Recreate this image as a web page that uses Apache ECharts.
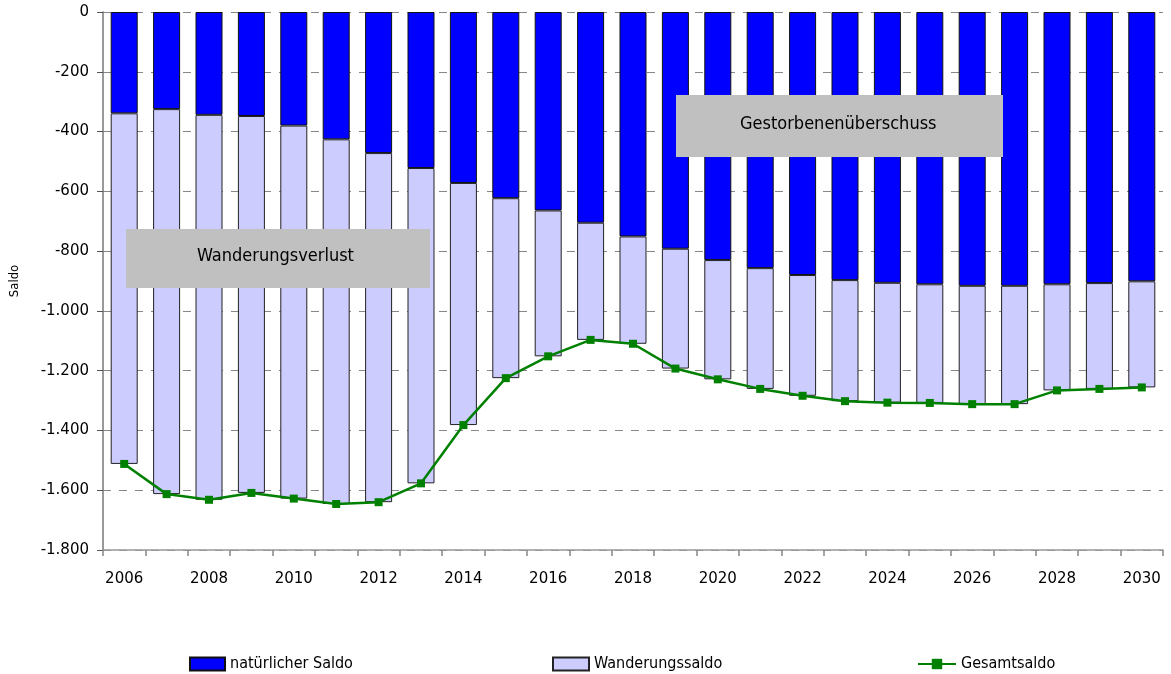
<!DOCTYPE html>
<html>
<head>
<meta charset="utf-8">
<script src="https://cdn.jsdelivr.net/npm/echarts@6/dist/echarts.min.js"></script>
<style>
  html, body { margin: 0; padding: 0; background: #fff; }
  #chart { width: 1171px; height: 674px; }
</style>
</head>
<body>
<div id="chart"></div>
<script>
// data
var years = ['2006', '2007', '2008', '2009', '2010', '2011', '2012', '2013', '2014', '2015',
    '2016', '2017', '2018', '2019', '2020', '2021', '2022', '2023', '2024', '2025',
    '2026', '2027', '2028', '2029', '2030'];
var natuerlich = [-339, -325, -344, -348, -380, -426, -472, -522, -572, -623,
    -664, -705, -751, -792, -830, -857, -880, -897, -906, -911,
    -916, -916, -911, -907, -901];
var wanderung = [-1173, -1288, -1288, -1261, -1248, -1220, -1168, -1055, -810, -602,
    -488, -392, -359, -401, -399, -404, -404, -405, -401, -397,
    -396, -396, -355, -354, -355];
var gesamt = [-1512, -1613, -1632, -1609, -1628, -1646, -1640, -1577, -1382, -1225,
    -1152, -1097, -1110, -1193, -1229, -1261, -1284, -1302, -1307, -1308,
    -1312, -1312, -1266, -1261, -1256];

var labelFont = 'DejaVu Sans';
var textFont = '"DejaVu Sans Condensed", Roboto, sans-serif';

var myChart = echarts.init(document.getElementById('chart'));

var legendText = { fontFamily: textFont, fontSize: 16, color: '#000' };

var option = {
    animation: false,
    grid: { left: 103, right: 8, top: 12, bottom: 124 },
    legend: [
        { data: [{ name: 'natürlicher Saldo', icon: 'rect' }], left: 184, top: 651, itemWidth: 35, itemHeight: 13, itemGap: 4, textStyle: legendText },
        { data: [{ name: 'Wanderungssaldo', icon: 'rect' }], left: 547, top: 651, itemWidth: 36, itemHeight: 13, textStyle: legendText },
        { data: ['Gesamtsaldo'], left: 912, top: 651, itemWidth: 38, itemHeight: 13, textStyle: legendText }
    ],
    xAxis: {
        type: 'category',
        data: years,
        boundaryGap: true,
        axisLine: { onZero: false, lineStyle: { color: '#999', width: 1.5 } },
        axisTick: { show: true, interval: 0, length: 6, lineStyle: { color: '#888', width: 1.5 } },
        axisLabel: { interval: 1, margin: 22, fontFamily: labelFont, fontSize: 15, color: '#000' }
    },
    yAxis: {
        type: 'value',
        min: -1800,
        max: 0,
        interval: 200,
        name: 'Saldo',
        nameLocation: 'middle',
        nameGap: 82,
        nameTextStyle: { fontFamily: textFont, fontSize: 13, color: '#000' },
        axisLine: { show: true, lineStyle: { color: '#777', width: 1.5 } },
        axisTick: { show: true, length: 6, lineStyle: { color: '#555' } },
        axisLabel: {
            margin: 14,
            fontFamily: labelFont,
            fontSize: 15,
            color: '#000',
            formatter: function (v) {
                var s = Math.abs(v).toString().replace(/\B(?=(\d{3})+(?!\d))/g, '.');
                return (v < 0 ? '-' : '') + s;
            }
        },
        splitLine: { lineStyle: { color: '#888', type: [8, 8], width: 1 } }
    },
    graphic: {
        elements: [
            { type: 'rect', z: 100, left: 126, top: 229, shape: { width: 304, height: 59 }, style: { fill: '#c0c0c0' } },
            { type: 'text', z: 101, left: 197, top: 247, style: { text: 'Wanderungsverlust', fontFamily: textFont, fontSize: 18, fill: '#000' } },
            { type: 'rect', z: 100, left: 676, top: 95, shape: { width: 327, height: 62 }, style: { fill: '#c0c0c0' } },
            { type: 'text', z: 101, left: 740, top: 115, style: { text: 'Gestorbenenüberschuss', fontFamily: textFont, fontSize: 18, fill: '#000' } }
        ]
    },
    series: [
        {
            name: 'natürlicher Saldo',
            type: 'bar',
            stack: 'saldo',
            barWidth: 27,
            data: natuerlich,
            itemStyle: { color: '#0000ff', borderColor: '#111', borderWidth: 1 }
        },
        {
            name: 'Wanderungssaldo',
            type: 'bar',
            stack: 'saldo',
            barWidth: 27,
            data: wanderung,
            itemStyle: { color: '#ccccff', borderColor: '#222', borderWidth: 1 }
        },
        {
            name: 'Gesamtsaldo',
            type: 'line',
            data: gesamt,
            z: 10,
            symbol: 'rect',
            symbolSize: 8,
            lineStyle: { color: '#008000', width: 2.5 },
            itemStyle: { color: '#008000' }
        }
    ]
};

myChart.setOption(option);
</script>
</body>
</html>
